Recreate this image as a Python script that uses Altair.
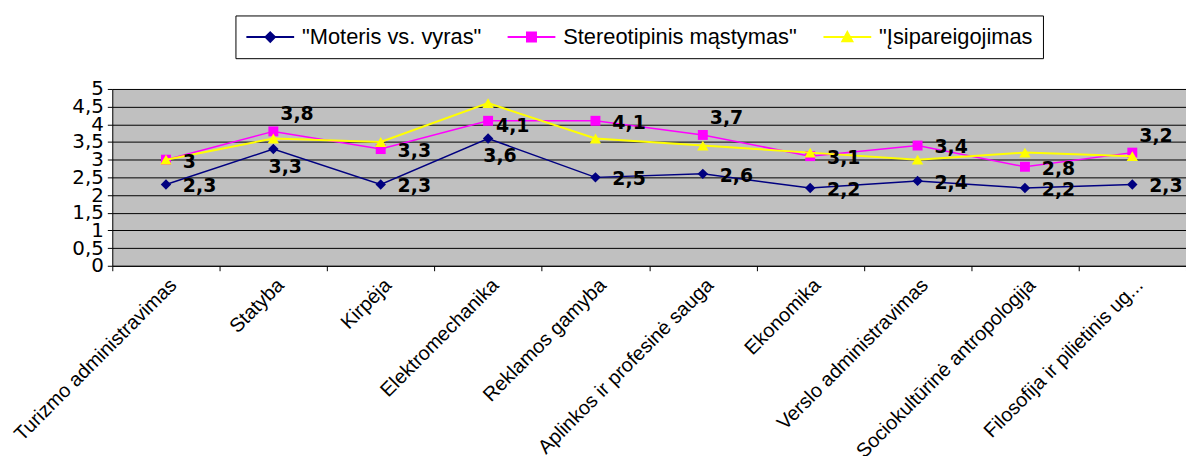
import altair as alt
import pandas as pd

categories = [
    "Turizmo administravimas", "Statyba", "Kirpėja", "Elektromechanika",
    "Reklamos gamyba", "Aplinkos ir profesinė sauga", "Ekonomika",
    "Verslo administravimas", "Sociokultūrinė antropologija",
    "Filosofija ir pilietinis ug...",
]
series_names = ['"Moteris vs. vyras"', 'Stereotipinis mąstymas"', '"Įsipareigojimas']
moteris = [2.3, 3.3, 2.3, 3.6, 2.5, 2.6, 2.2, 2.4, 2.2, 2.3]
stereotipinis = [3.0, 3.8, 3.3, 4.1, 4.1, 3.7, 3.1, 3.4, 2.8, 3.2]
isipareigojimas = [3.0, 3.6, 3.5, 4.6, 3.6, 3.4, 3.2, 3.0, 3.2, 3.1]

# where each value label sits relative to its marker ("none" = no label)
moteris_label_pos = ["right", "below", "right", "below", "right", "right", "right", "right", "right", "right"]
stereotipinis_label_pos = ["right", "above", "right", "near", "right", "above", "right", "right", "right", "above"]
isipareigojimas_label_pos = ["none"] * 10

colors = ["#000080", "#FF00FF", "#FFFF00"]
shapes = ["diamond", "square", "triangle-up"]
sizes = [110, 100, 130]
widths = [1.5, 1.5, 2]

rows = []
for name, vals, poss in zip(series_names,
                            [moteris, stereotipinis, isipareigojimas],
                            [moteris_label_pos, stereotipinis_label_pos, isipareigojimas_label_pos]):
    for c, v, p in zip(categories, vals, poss):
        rows.append({"category": c, "series": name, "value": v, "pos": p,
                     "label": f"{v:g}".replace(".", ",")})
df = pd.DataFrame(rows)

x = alt.X("category:N", sort=categories,
          scale=alt.Scale(paddingInner=0, paddingOuter=0),
          axis=alt.Axis(title=None, labelAngle=-45, labelFont="Liberation Sans",
                        labelFontSize=20, labelColor="black", labelLimit=400,
                        tickBand="extent", tickSize=5, tickColor="black",
                        domainColor="black", labelPadding=4, labelAlign="right",
                        labelBaseline="top", grid=False))
y = alt.Y("value:Q", scale=alt.Scale(domain=[0, 5], nice=False, zero=True),
          axis=alt.Axis(title=None, values=[0, 0.5, 1, 1.5, 2, 2.5, 3, 3.5, 4, 4.5, 5],
                        labelExpr="replace(format(datum.value, '.1~f'), '.', ',')",
                        grid=True, gridColor="black", gridWidth=1, gridOpacity=1,
                        tickColor="black", tickSize=5, domainColor="black",
                        labelFont="DejaVu Sans", labelFontSize=20, labelColor="black",
                        labelOverlap=False, labelPadding=4))

layers = []
for name, col, shp, sz, w in zip(series_names, colors, shapes, sizes, widths):
    base = alt.Chart(df).transform_filter(alt.datum.series == name)
    layers.append(base.mark_line(color=col, strokeWidth=w).encode(x=x, y=y))
    layers.append(base.mark_point(filled=True, shape=shp, size=sz, color=col, opacity=1).encode(x=x, y=y))

label_styles = {
    "right": dict(align="left", dx=17, dy=2),
    "above": dict(align="left", dx=7, dy=-17),
    "below": dict(align="center", dx=12, dy=18),
    "near": dict(align="left", dx=8, dy=5),
}
for key, st in label_styles.items():
    layers.append(
        alt.Chart(df).transform_filter(alt.datum.pos == key)
        .mark_text(font="DejaVu Sans", fontSize=19, fontWeight="bold", color="black",
                   baseline="middle", **st)
        .encode(x=x, y=y, text="label:N")
    )

legend_paths = [
    "M-1,0H3.58M1.29,-0.45L1.74,0L1.29,0.45L0.84,0Z",
    "M-1,0H3.58M0.86,-0.43H1.72V0.43H0.86Z",
    "M-1,0H3.58M0.81,0.4H1.77L1.29,-0.48Z",
]
leg = alt.Legend(title=None, orient="none", legendX=124, legendY=-74,
                 direction="horizontal", strokeColor="black", fillColor="white",
                 padding=10, labelFont="Liberation Sans", labelFontSize=22,
                 labelColor="black", labelLimit=600, symbolSize=441, symbolStrokeWidth=2,
                 labelOffset=34, columnPadding=22, symbolOpacity=1)
hidden = alt.Chart(df).transform_filter("datum.value < 0").mark_point(filled=True).encode(
    x=x, y=y,
    fill=alt.Fill("series:N", scale=alt.Scale(domain=series_names, range=colors), legend=leg),
    stroke=alt.Stroke("series:N", scale=alt.Scale(domain=series_names, range=colors), legend=leg),
    shape=alt.Shape("series:N", scale=alt.Scale(domain=series_names, range=legend_paths), legend=leg),
)
layers.append(hidden)

chart = alt.layer(*layers).properties(
    width=1081, height=178,
    autosize=alt.AutoSizeParams(type="none"),
    padding={"left": 105, "top": 80, "right": 0, "bottom": 190},
    background="white",
).configure_view(fill="#C0C0C0", stroke=None)

chart.save("out.html", embed_options={"renderer": "svg", "actions": False})
